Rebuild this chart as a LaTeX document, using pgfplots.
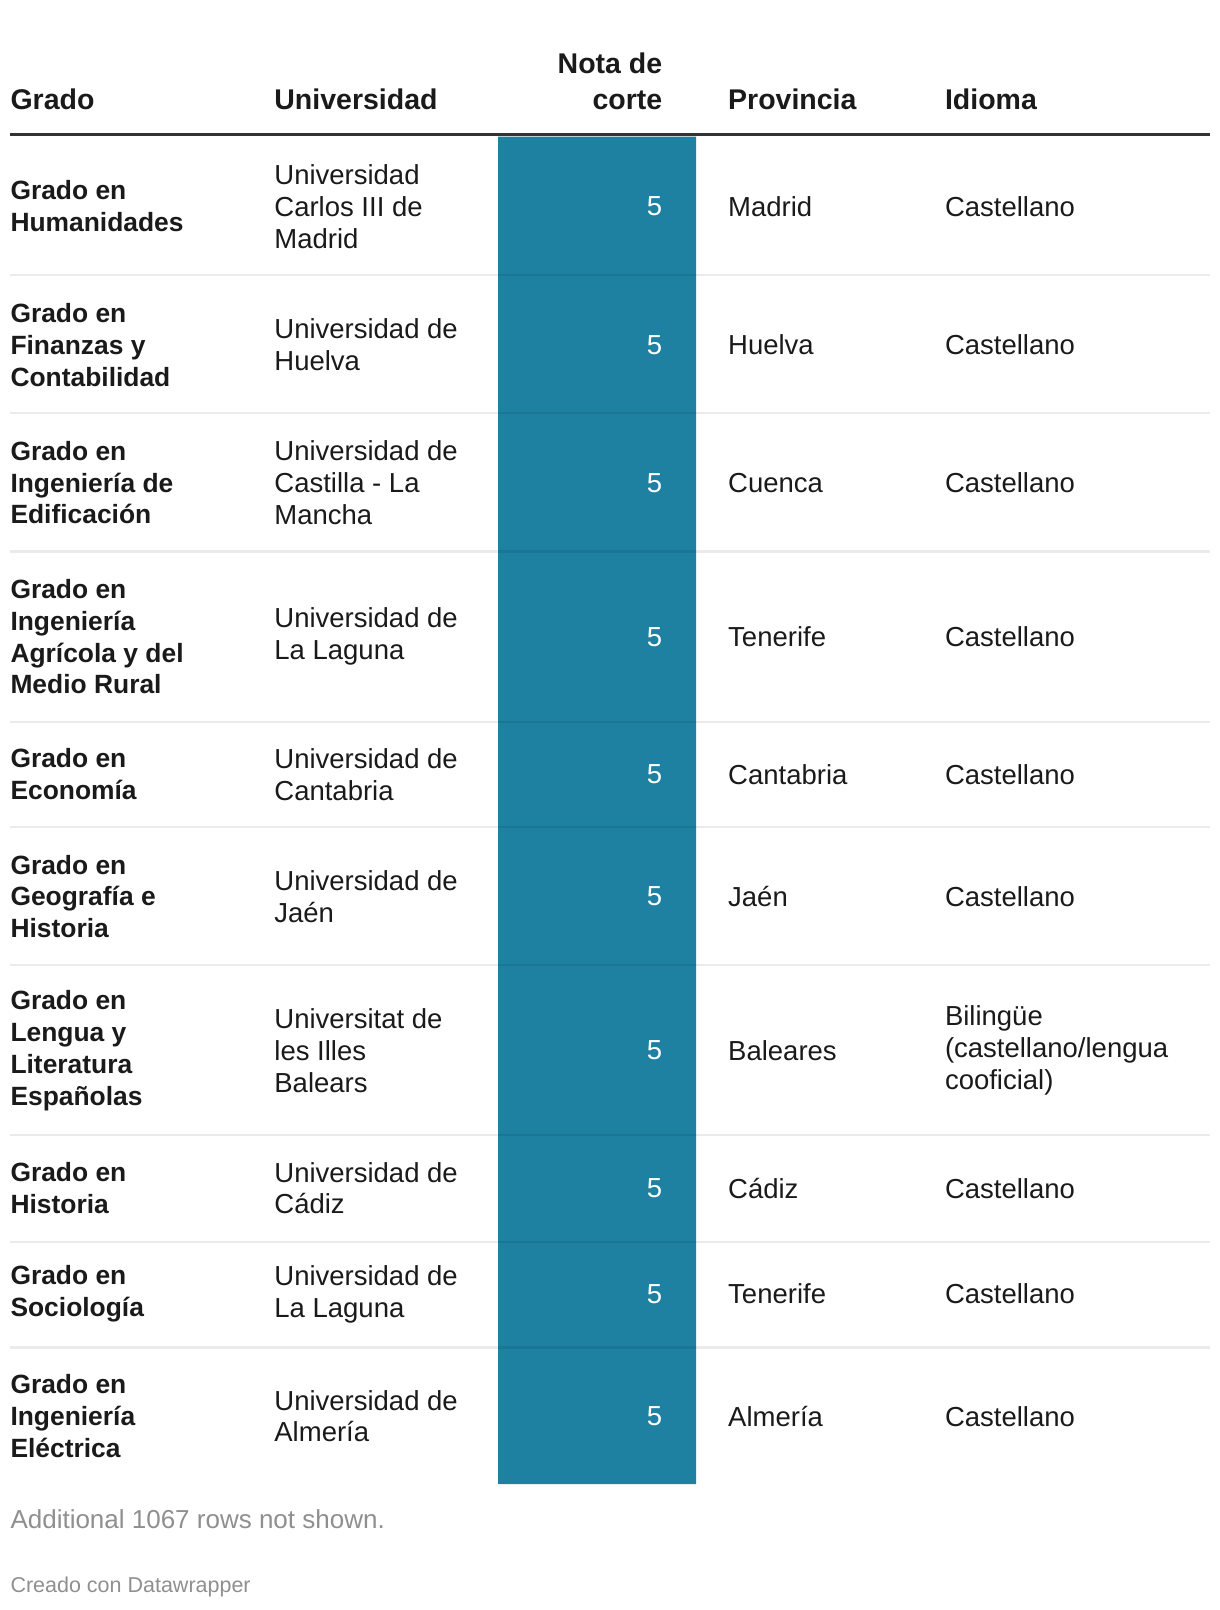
\documentclass[border=0pt]{standalone}
\usepackage{fontspec}
\setmainfont{Liberation Sans}
\usepackage{pgfplots}
\pgfplotsset{compat=1.18}
\usepackage{pgfplotstable}
\definecolor{barblue}{HTML}{1E81A2}
\definecolor{txt}{HTML}{1A1A1A}
\definecolor{rulec}{HTML}{333333}
\definecolor{foot}{HTML}{8F8F8F}

% Nota de corte, one row per degree (y = row centre in pixels)
\pgfplotstableread{
y      v
206.4  5
345.0  5
482.7  5
636.7  5
774.3  5
896.5  5
1050.6 5
1188.2 5
1294.0 5
1416.2 5
}\notas

\newcommand{\bodyfont}{\fontsize{27.5}{31.8}\selectfont}
\newcommand{\boldfont}{\fontsize{26.4}{31.8}\selectfont\bfseries}
\newcommand{\headfont}{\fontsize{28.5}{35.5}\selectfont\bfseries}

\tikzset{
  cell/.style={anchor=west, align=left, inner sep=0pt, text=txt, font=\bodyfont},
  bcell/.style={anchor=west, align=left, inner sep=0pt, text=txt, font=\boldfont},
  head/.style={anchor=base west, inner sep=0pt, text=txt, font=\headfont},
}

\begin{document}
\begin{tikzpicture}
\begin{axis}[
  width=1220pt, height=1610pt, scale only axis,
  xmin=0, xmax=1220, ymin=0, ymax=1610, y dir=reverse,
  hide axis, clip=false,
]
\path (rel axis cs:0,0) rectangle (rel axis cs:1,1);

% blue column
\addplot[fill=barblue, draw=none] coordinates {(498,136.6) (696,136.6) (696,1484) (498,1484) (498,136.6)};

% row separators
\pgfplotsinvokeforeach{275.2,412.8,551.5,722.0,826.7,965.3,1134.8,1241.6,1347.4}{
  \draw[black, opacity=0.08, line width=2.2pt] (axis cs:10.3,#1) -- (axis cs:1209.7,#1);
}
% header rule
\draw[rulec, line width=3.6pt] (axis cs:10.3,134.3) -- (axis cs:1209.7,134.3);

% headers
\node[head] at (axis cs:10.3,109.5) {Grado};
\node[head] at (axis cs:274.2,109.5) {Universidad};
\node[head, anchor=base east] at (axis cs:662.4,73.5) {Nota de};
\node[head, anchor=base east] at (axis cs:662.4,109.5) {corte};
\node[head] at (axis cs:728,109.5) {Provincia};
\node[head] at (axis cs:944.8,109.5) {Idioma};

% values
\addplot[draw=none, mark=none, point meta=explicit,
  nodes near coords={\pgfmathprintnumber[assume math mode=true]{\pgfplotspointmeta}},
  nodes near coords style={anchor=east, inner sep=0pt, text=white, font=\bodyfont}]
  table[x expr=662.4, y=y, meta=v] {\notas};

% row 1
\node[bcell] at (axis cs:10.3,206.4) {Grado en\\Humanidades};
\node[cell] at (axis cs:274.2,206.4) {Universidad\\Carlos III de\\Madrid};
\node[cell] at (axis cs:728,206.4) {Madrid};
\node[cell] at (axis cs:944.8,206.4) {Castellano};
% row 2
\node[bcell] at (axis cs:10.3,345) {Grado en\\Finanzas y\\Contabilidad};
\node[cell] at (axis cs:274.2,345) {Universidad de\\Huelva};
\node[cell] at (axis cs:728,345) {Huelva};
\node[cell] at (axis cs:944.8,345) {Castellano};
% row 3
\node[bcell] at (axis cs:10.3,482.7) {Grado en\\Ingeniería de\\Edificación};
\node[cell] at (axis cs:274.2,482.7) {Universidad de\\Castilla - La\\Mancha};
\node[cell] at (axis cs:728,482.7) {Cuenca};
\node[cell] at (axis cs:944.8,482.7) {Castellano};
% row 4
\node[bcell] at (axis cs:10.3,636.7) {Grado en\\Ingeniería\\Agrícola y del\\Medio Rural};
\node[cell] at (axis cs:274.2,636.7) {Universidad de\\La Laguna};
\node[cell] at (axis cs:728,636.7) {Tenerife};
\node[cell] at (axis cs:944.8,636.7) {Castellano};
% row 5
\node[bcell] at (axis cs:10.3,774.3) {Grado en\\Economía};
\node[cell] at (axis cs:274.2,774.3) {Universidad de\\Cantabria};
\node[cell] at (axis cs:728,774.3) {Cantabria};
\node[cell] at (axis cs:944.8,774.3) {Castellano};
% row 6
\node[bcell] at (axis cs:10.3,896.5) {Grado en\\Geografía e\\Historia};
\node[cell] at (axis cs:274.2,896.5) {Universidad de\\Jaén};
\node[cell] at (axis cs:728,896.5) {Jaén};
\node[cell] at (axis cs:944.8,896.5) {Castellano};
% row 7
\node[bcell] at (axis cs:10.3,1050.6) {Grado en\\Lengua y\\Literatura\\Españolas};
\node[cell] at (axis cs:274.2,1050.6) {Universitat de\\les Illes\\Balears};
\node[cell] at (axis cs:728,1050.6) {Baleares};
\node[cell] at (axis cs:944.8,1050.6) {Bilingüe\\(castellano/lengua\\cooficial)};
% row 8
\node[bcell] at (axis cs:10.3,1188.2) {Grado en\\Historia};
\node[cell] at (axis cs:274.2,1188.2) {Universidad de\\Cádiz};
\node[cell] at (axis cs:728,1188.2) {Cádiz};
\node[cell] at (axis cs:944.8,1188.2) {Castellano};
% row 9
\node[bcell] at (axis cs:10.3,1294) {Grado en\\Sociología};
\node[cell] at (axis cs:274.2,1294) {Universidad de\\La Laguna};
\node[cell] at (axis cs:728,1294) {Tenerife};
\node[cell] at (axis cs:944.8,1294) {Castellano};
% row 10
\node[bcell] at (axis cs:10.3,1416.2) {Grado en\\Ingeniería\\Eléctrica};
\node[cell] at (axis cs:274.2,1416.2) {Universidad de\\Almería};
\node[cell] at (axis cs:728,1416.2) {Almería};
\node[cell] at (axis cs:944.8,1416.2) {Castellano};

% footer
\node[anchor=west, inner sep=0pt, text=foot, font=\fontsize{26}{30}\selectfont] at (axis cs:10.3,1518.8) {Additional 1067 rows not shown.};
\node[anchor=west, inner sep=0pt, text=foot, font=\fontsize{21.5}{25}\selectfont] at (axis cs:10.3,1586.6) {Creado con Datawrapper};
\end{axis}
\end{tikzpicture}
\end{document}
